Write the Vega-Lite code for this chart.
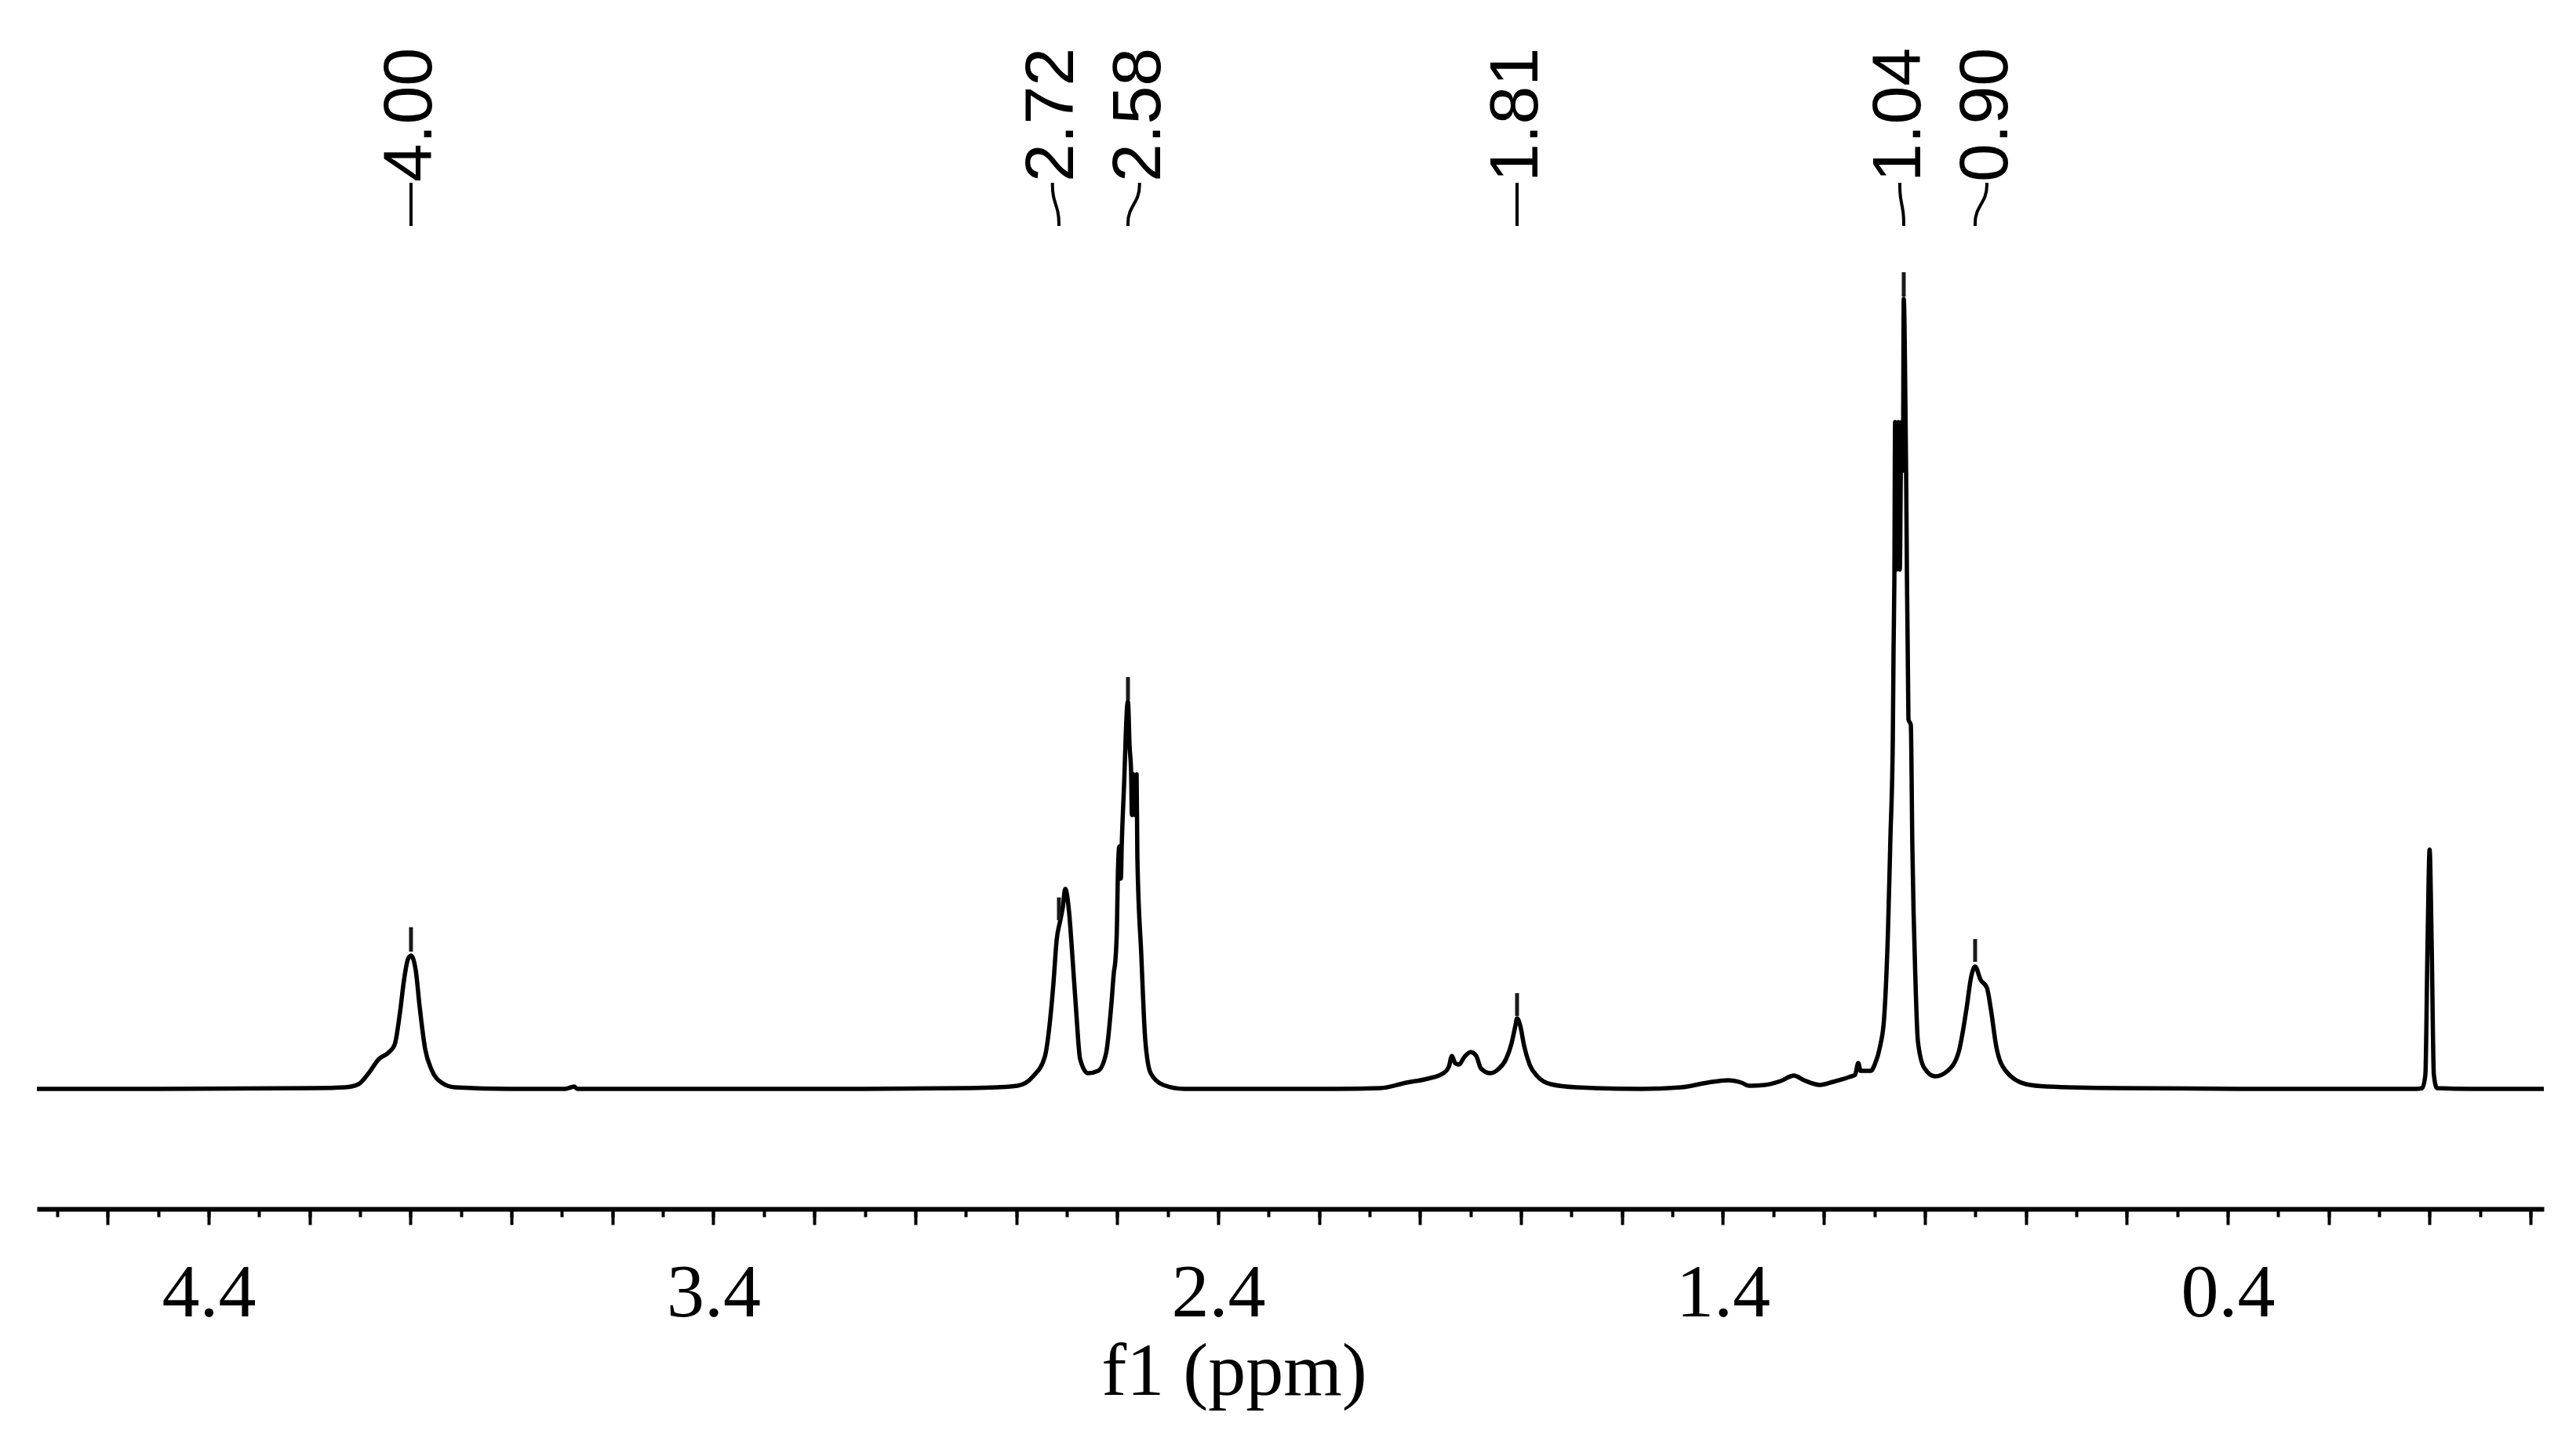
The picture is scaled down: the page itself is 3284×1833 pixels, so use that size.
{
  "$schema": "https://vega.github.io/schema/vega-lite/v6.json",
  "autosize": {"type": "none"},
  "padding": {"left": 47, "top": 0, "right": 41, "bottom": 292},
  "width": 3196,
  "height": 1541,
  "background": "white",
  "config": {"view": {"stroke": null}},
  "datasets": {
    "spectrum": [
      {"p":4.7403,"i":0},{"p":4.5026,"i":0},{"p":4.1918,"i":1},{"p":4.1296,"i":2},{"p":4.1032,"i":6},{"p":4.0830,"i":20},{"p":4.0628,"i":38},{"p":4.0441,"i":46},{"p":4.0317,"i":56},{"p":4.0208,"i":98},{"p":4.0131,"i":138},{"p":4.0053,"i":165},{"p":3.9991,"i":170},{"p":3.9897,"i":151},{"p":3.9820,"i":105},{"p":3.9711,"i":51},{"p":3.9587,"i":25},{"p":3.9385,"i":8},{"p":3.9120,"i":2},{"p":3.8033,"i":0},{"p":3.6945,"i":0},{"p":3.6821,"i":2},{"p":3.6758,"i":3},{"p":3.6696,"i":0},{"p":3.4148,"i":0},{"p":3.1040,"i":0},{"p":2.9019,"i":1},{"p":2.8398,"i":2},{"p":2.7978,"i":4},{"p":2.7667,"i":16},{"p":2.7434,"i":41},{"p":2.7341,"i":81},{"p":2.7263,"i":135},{"p":2.7201,"i":189},{"p":2.7124,"i":216},{"p":2.7077,"i":232},{"p":2.7030,"i":255},{"p":2.6953,"i":225},{"p":2.6890,"i":171},{"p":2.6813,"i":99},{"p":2.6735,"i":38},{"p":2.6580,"i":20},{"p":2.6378,"i":23},{"p":2.6222,"i":45},{"p":2.6113,"i":110},{"p":2.6067,"i":148},{"p":2.6036,"i":164},{"p":2.6005,"i":208},{"p":2.5989,"i":268},{"p":2.5958,"i":309},{"p":2.5927,"i":268},{"p":2.5911,"i":309},{"p":2.5865,"i":386},{"p":2.5803,"i":488},{"p":2.5787,"i":494},{"p":2.5756,"i":438},{"p":2.5725,"i":404},{"p":2.5709,"i":349},{"p":2.5678,"i":401},{"p":2.5647,"i":349},{"p":2.5616,"i":401},{"p":2.5601,"i":296},{"p":2.5523,"i":171},{"p":2.5445,"i":63},{"p":2.5337,"i":20},{"p":2.5088,"i":5},{"p":2.4668,"i":0},{"p":2.3270,"i":0},{"p":2.1716,"i":0},{"p":2.0783,"i":1},{"p":2.0270,"i":8},{"p":1.9851,"i":13},{"p":1.9540,"i":20},{"p":1.9431,"i":28},{"p":1.9369,"i":42},{"p":1.9307,"i":33},{"p":1.9229,"i":31},{"p":1.9120,"i":41},{"p":1.8996,"i":47},{"p":1.8887,"i":42},{"p":1.8794,"i":26},{"p":1.8608,"i":20},{"p":1.8452,"i":25},{"p":1.8297,"i":38},{"p":1.8188,"i":58},{"p":1.8110,"i":81},{"p":1.8079,"i":90},{"p":1.8017,"i":81},{"p":1.7939,"i":55},{"p":1.7830,"i":31},{"p":1.7675,"i":16},{"p":1.7411,"i":6},{"p":1.6898,"i":2},{"p":1.5608,"i":0},{"p":1.4831,"i":2},{"p":1.4303,"i":8},{"p":1.3899,"i":11},{"p":1.3635,"i":8},{"p":1.3479,"i":4},{"p":1.3168,"i":5},{"p":1.2858,"i":10},{"p":1.2594,"i":17},{"p":1.2392,"i":11},{"p":1.2081,"i":5},{"p":1.1817,"i":9},{"p":1.1506,"i":15},{"p":1.1382,"i":18},{"p":1.1319,"i":33},{"p":1.1273,"i":23},{"p":1.1071,"i":23},{"p":1.0993,"i":31},{"p":1.0884,"i":55},{"p":1.0807,"i":90},{"p":1.0729,"i":204},{"p":1.0682,"i":320},{"p":1.0635,"i":443},{"p":1.0620,"i":560},{"p":1.0604,"i":648},{"p":1.0589,"i":850},{"p":1.0558,"i":662},{"p":1.0527,"i":850},{"p":1.0496,"i":662},{"p":1.0465,"i":850},{"p":1.0434,"i":788},{"p":1.0418,"i":1007},{"p":1.0371,"i":785},{"p":1.0325,"i":471},{"p":1.0278,"i":464},{"p":1.0247,"i":307},{"p":1.0185,"i":136},{"p":1.0138,"i":61},{"p":1.0014,"i":27},{"p":0.9797,"i":16},{"p":0.9548,"i":23},{"p":0.9330,"i":47},{"p":0.9175,"i":102},{"p":0.9082,"i":143},{"p":0.9004,"i":156},{"p":0.8895,"i":139},{"p":0.8771,"i":129},{"p":0.8693,"i":102},{"p":0.8585,"i":54},{"p":0.8398,"i":23},{"p":0.7994,"i":6},{"p":0.7574,"i":3},{"p":0.6176,"i":1},{"p":0.3068,"i":0},{"p":0.0270,"i":0},{"p":0.0146,"i":1},{"p":0.0084,"i":18},{"p":0.0040,"i":188},{"p":0.0000,"i":305},{"p":-0.0040,"i":188},{"p":-0.0084,"i":18},{"p":-0.0146,"i":1},{"p":-0.0818,"i":0},{"p":-0.2263,"i":0}
    ],
    "markers": [
      {"p":3.9991,"lo":175,"hi":206},
      {"p":2.7155,"lo":215,"hi":244},
      {"p":2.5787,"lo":496,"hi":525},
      {"p":1.8079,"lo":93,"hi":122},
      {"p":1.0418,"lo":1010,"hi":1041},
      {"p":0.9004,"lo":162,"hi":191}
    ],
    "connectors": [
      {"g":"4.00","o":1,"p":3.9991,"i":1155},{"g":"4.00","o":2,"p":3.9991,"i":1100},
      {"g":"2.72","o":1,"p":2.7283,"i":1155},{"g":"2.72","o":2,"p":2.7283,"i":1138},{"g":"2.72","o":3,"p":2.7155,"i":1117},{"g":"2.72","o":4,"p":2.7155,"i":1100},
      {"g":"2.58","o":1,"p":2.5558,"i":1155},{"g":"2.58","o":2,"p":2.5558,"i":1138},{"g":"2.58","o":3,"p":2.5787,"i":1117},{"g":"2.58","o":4,"p":2.5787,"i":1100},
      {"g":"1.81","o":1,"p":1.8079,"i":1155},{"g":"1.81","o":2,"p":1.8079,"i":1100},
      {"g":"1.04","o":1,"p":1.0496,"i":1155},{"g":"1.04","o":2,"p":1.0496,"i":1138},{"g":"1.04","o":3,"p":1.0418,"i":1117},{"g":"1.04","o":4,"p":1.0418,"i":1100},
      {"g":"0.90","o":1,"p":0.8771,"i":1155},{"g":"0.90","o":2,"p":0.8771,"i":1138},{"g":"0.90","o":3,"p":0.9004,"i":1117},{"g":"0.90","o":4,"p":0.9004,"i":1100}
    ],
    "labels": [
      {"p":3.9991,"t":"4.00"},
      {"p":2.7283,"t":"2.72"},
      {"p":2.5558,"t":"2.58"},
      {"p":1.8079,"t":"1.81"},
      {"p":1.0496,"t":"1.04"},
      {"p":0.8771,"t":"0.90"}
    ]
  },
  "resolve": {"axis": {"x": "independent"}, "scale": {"x": "shared", "y": "shared"}},
  "layer": [
    {
      "data": {"name": "spectrum"},
      "mark": {"type": "line", "color": "black", "strokeWidth": 5.5, "strokeJoin": "round", "interpolate": "monotone"},
      "encoding": {
        "x": {"field": "p", "type": "quantitative",
              "scale": {"domain": [-0.2263, 4.7403], "reverse": true, "nice": false, "zero": false},
              "axis": {"orient": "bottom", "values": [4.7,4.6,4.5,4.4,4.3,4.2,4.1,4.0,3.9,3.8,3.7,3.6,3.5,3.4,3.3,3.2,3.1,3.0,2.9,2.8,2.7,2.6,2.5,2.4,2.3,2.2,2.1,2.0,1.9,1.8,1.7,1.6,1.5,1.4,1.3,1.2,1.1,1.0,0.9,0.8,0.7,0.6,0.5,0.4,0.3,0.2,0.1,0.0,-0.1,-0.2],
                       "labels": false, "title": null, "grid": false, "domain": true, "domainColor": "black", "domainWidth": 6,
                       "ticks": true, "tickSize": 10, "tickWidth": 4, "tickColor": "black"}},
        "y": {"field": "i", "type": "quantitative",
              "scale": {"domain": [-153, 1388], "nice": false, "zero": false}, "axis": null}
      }
    },
    {
      "data": {"name": "markers"},
      "mark": {"type": "rule", "color": "#1a1a1a", "strokeWidth": 5},
      "encoding": {
        "x": {"field": "p", "type": "quantitative",
              "scale": {"domain": [-0.2263, 4.7403], "reverse": true, "nice": false, "zero": false},
              "axis": {"orient": "bottom", "values": [4.6,4.4,4.2,4.0,3.8,3.6,3.4,3.2,3.0,2.8,2.6,2.4,2.2,2.0,1.8,1.6,1.4,1.2,1.0,0.8,0.6,0.4,0.2,0.0,-0.2],
                       "labelExpr": "indexof(['4.4','3.4','2.4','1.4','0.4'], format(datum.value, '.1f')) >= 0 ? format(datum.value, '.1f') : ''",
                       "labelFont": "Liberation Serif", "labelFontSize": 96, "labelColor": "black", "labelPadding": 40,
                       "labelOverlap": false, "labelFlush": false, "labelBound": false,
                       "grid": false, "domain": false, "ticks": true, "tickSize": 20, "tickWidth": 4, "tickColor": "black",
                       "title": "f1 (ppm)", "titleFont": "Liberation Serif", "titleFontSize": 96, "titleFontWeight": "normal", "titleColor": "black",
                       "titleX": 1526, "titleY": 236, "titleAlign": "center", "titleBaseline": "alphabetic"}},
        "y": {"field": "lo", "type": "quantitative", "scale": {"domain": [-153, 1388], "nice": false, "zero": false}, "axis": null},
        "y2": {"field": "hi"}
      }
    },
    {
      "data": {"name": "connectors"},
      "mark": {"type": "line", "color": "black", "strokeWidth": 4, "interpolate": "basis"},
      "encoding": {
        "x": {"field": "p", "type": "quantitative",
              "scale": {"domain": [-0.2263, 4.7403], "reverse": true, "nice": false, "zero": false}, "axis": null},
        "y": {"field": "i", "type": "quantitative", "scale": {"domain": [-153, 1388], "nice": false, "zero": false}, "axis": null},
        "detail": {"field": "g", "type": "nominal"},
        "order": {"field": "o", "type": "quantitative"}
      }
    },
    {
      "data": {"name": "labels"},
      "mark": {"type": "text", "angle": 270, "align": "left", "baseline": "middle", "font": "Liberation Sans", "fontSize": 88, "color": "black"},
      "encoding": {
        "x": {"field": "p", "type": "quantitative",
              "scale": {"domain": [-0.2263, 4.7403], "reverse": true, "nice": false, "zero": false}, "axis": null},
        "y": {"datum": 1156, "type": "quantitative", "scale": {"domain": [-153, 1388], "nice": false, "zero": false}},
        "text": {"field": "t", "type": "nominal"}
      }
    }
  ]
}
